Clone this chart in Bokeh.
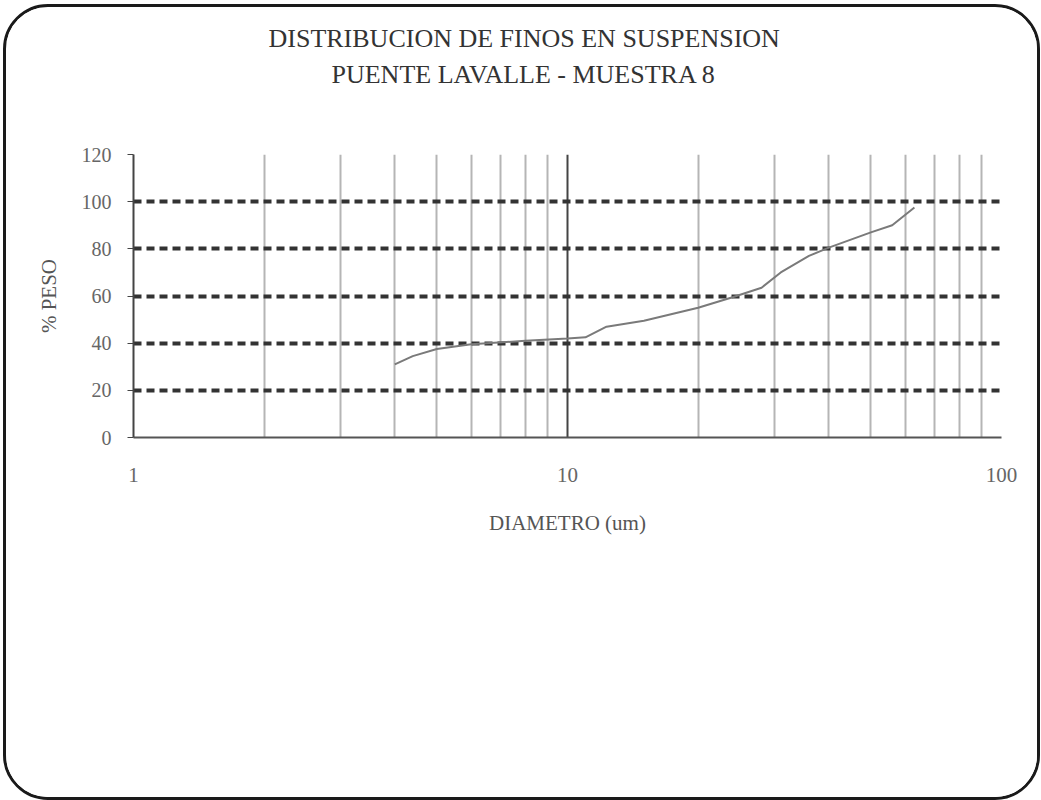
from bokeh.plotting import figure
from bokeh.models import FixedTicker, Title, Range1d, CustomJSTickFormatter
from bokeh.embed import file_html
from bokeh.resources import INLINE

# Particle-size distribution of suspended fines
diametro_um = [4.0, 4.4, 5.0, 6.0, 8.0, 10.0, 11.0, 12.3, 15.0, 20.0, 24.0, 28.0, 31.0, 36.0, 40.0, 50.0, 56.0, 63.0]
peso_pct = [31.0, 34.5, 37.5, 39.5, 41.0, 42.0, 42.5, 47.0, 49.5, 55.0, 59.5, 63.5, 70.0, 77.0, 80.5, 87.0, 90.0, 97.5]

x_ticks = [1, 10, 100]
x_minor = [2, 3, 4, 5, 6, 7, 8, 9, 20, 30, 40, 50, 60, 70, 80, 90]
y_ticks = [0, 20, 40, 60, 80, 100, 120]
y_grid = [20, 40, 60, 80, 100, 120]

title_1 = "DISTRIBUCION DE FINOS EN SUSPENSION"
title_2 = "PUENTE LAVALLE - MUESTRA  8"

SERIF = "Liberation Serif"

# the slide has a rounded frame drawn around the canvas
p = figure(width=1037, height=796, x_axis_type="log",
           x_range=Range1d(1, 100), y_range=Range1d(0, 120),
           output_backend="svg", toolbar_location=None,
           min_border_left=127, min_border_right=42,
           min_border_top=147, min_border_bottom=366)
p.styles = {"margin": "4px 1px 0px 3px", "border": "3px solid #1a1a1a",
            "border-radius": "45px", "overflow": "hidden"}
p.outline_line_color = None
p.background_fill_color = "white"
p.border_fill_color = "white"
p.title = None

# x axis (log)
p.xaxis.ticker = FixedTicker(ticks=x_ticks, minor_ticks=x_minor)
p.xaxis.formatter = CustomJSTickFormatter(code="return String(Math.round(tick));")
p.xaxis.axis_label = "DIAMETRO (um)"
p.xaxis.axis_label_text_font = SERIF
p.xaxis.axis_label_text_font_style = "normal"
p.xaxis.axis_label_text_font_size = "21px"
p.xaxis.axis_label_text_color = "#555555"
p.xaxis.axis_label_standoff = 26
p.xaxis.major_label_text_font = SERIF
p.xaxis.major_label_text_font_size = "21px"
p.xaxis.major_label_text_color = "#666666"
p.xaxis.major_label_standoff = 30
p.xaxis.major_tick_out = 0
p.xaxis.major_tick_in = 0
p.xaxis.minor_tick_out = 0
p.xaxis.minor_tick_in = 0
p.xaxis.axis_line_color = "#555555"
p.xaxis.axis_line_width = 2

# y axis
p.yaxis.ticker = FixedTicker(ticks=y_ticks)
p.yaxis.axis_label = "% PESO"
p.yaxis.axis_label_text_font = SERIF
p.yaxis.axis_label_text_font_style = "normal"
p.yaxis.axis_label_text_font_size = "21px"
p.yaxis.axis_label_text_color = "#555555"
p.yaxis.axis_label_standoff = 18
p.yaxis.major_label_text_font = SERIF
p.yaxis.major_label_text_font_size = "20px"
p.yaxis.major_label_text_color = "#666666"
p.yaxis.major_label_standoff = 16
p.yaxis.major_tick_out = 6
p.yaxis.major_tick_in = 0
p.yaxis.minor_tick_out = 0
p.yaxis.minor_tick_in = 0
p.yaxis.major_tick_line_color = "#444444"
p.yaxis.axis_line_color = "#444444"
p.yaxis.axis_line_width = 2

# grids: solid verticals per decade, heavy dotted horizontals
p.xgrid.ticker = FixedTicker(ticks=x_ticks, minor_ticks=x_minor)
p.xgrid.grid_line_color = "#444444"
p.xgrid.grid_line_width = 2
p.xgrid.minor_grid_line_color = "#b5b5b5"
p.xgrid.minor_grid_line_width = 2

p.ygrid.ticker = FixedTicker(ticks=y_grid)
p.ygrid.grid_line_color = "#333333"
p.ygrid.grid_line_width = 4
p.ygrid.grid_line_dash = "8 5"

p.line(diametro_um, peso_pct, line_color="#7a7a7a", line_width=2)

# heading: a blank spacer next to the plot, then the two lines above it
p.add_layout(Title(text=" ", text_font_size="2px", standoff=62), "above")
p.add_layout(Title(text=title_2, align="left", offset=198, standoff=0,
                   text_font=SERIF, text_font_size="26px", text_font_style="normal",
                   text_color="#333333"), "above")
p.add_layout(Title(text=title_1, align="left", offset=135, standoff=10,
                   text_font=SERIF, text_font_size="26px", text_font_style="normal",
                   text_color="#333333"), "above")

open("out.html", "w").write(file_html(p, INLINE))
